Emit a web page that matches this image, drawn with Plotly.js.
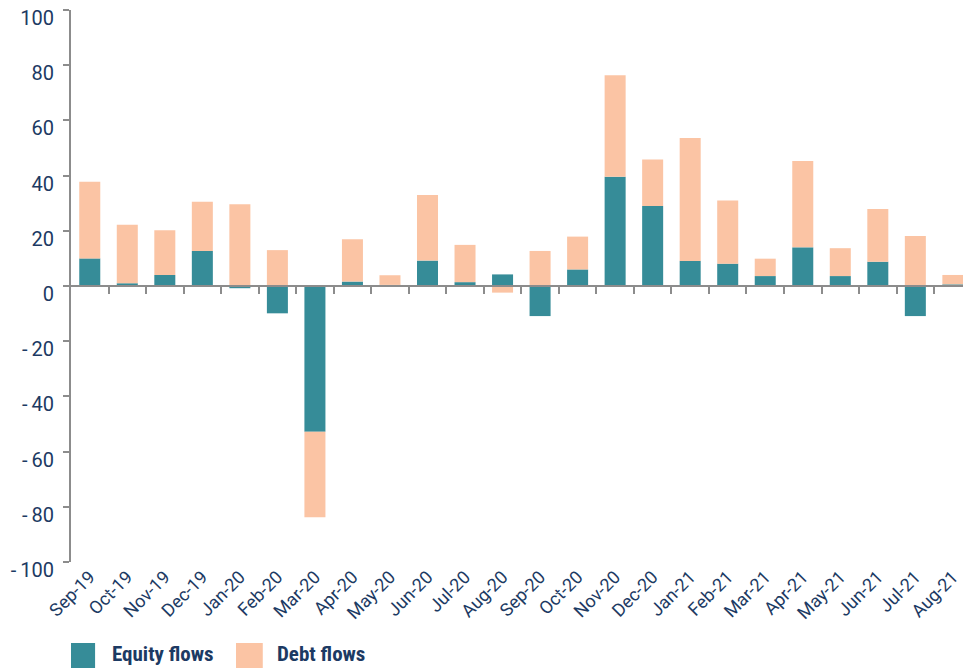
<!DOCTYPE html>
<html>
<head>
<meta charset="utf-8">
<script src="https://cdn.plot.ly/plotly-3.0.1.min.js"></script>
<style>html,body{margin:0;padding:0;background:#fff;}#chart{width:963px;height:668px;}</style>
</head>
<body>
<div id="chart"></div>
<script>
const categories = ["Sep-19","Oct-19","Nov-19","Dec-19","Jan-20","Feb-20","Mar-20","Apr-20","May-20","Jun-20","Jul-20","Aug-20","Sep-20","Oct-20","Nov-20","Dec-20","Jan-21","Feb-21","Mar-21","Apr-21","May-21","Jun-21","Jul-21","Aug-21"];
const equityFlows = [10.0, 1.0, 4.0, 12.7, -0.8, -9.9, -52.8, 1.6, 0.4, 9.2, 1.4, 4.2, -10.9, 6.0, 39.6, 29.0, 9.1, 8.1, 3.6, 14.0, 3.6, 8.8, -10.9, 0.6];
const debtFlows = [27.8, 21.2, 16.2, 17.8, 29.6, 13.0, -31.0, 15.3, 3.5, 23.8, 13.5, -2.4, 12.7, 11.9, 36.8, 16.8, 44.5, 22.9, 6.3, 31.3, 10.1, 19.1, 18.1, 3.4];
const yTicks = [-100,-80,-60,-40,-20,0,20,40,60,80,100];
const yTickText = yTicks.map(v => v < 0 ? '-\u2009' + Math.abs(v) : String(v));

const teal = '#368c98';
const peach = '#fbc4a4';
const navy = '#1c3a63';
const gray = '#8c8c8c';

const boundaries = categories.slice(0, -1).map((_, i) => i + 0.5);
const xRange = [-0.5, 23.27];

const traces = [
  {type:'bar', name:'Equity flows', x:categories, y:equityFlows, marker:{color:teal, line:{width:0}}, hoverinfo:'skip', showlegend:false},
  {type:'bar', name:'Debt flows', x:categories, y:debtFlows, marker:{color:peach, line:{width:0}}, hoverinfo:'skip', showlegend:false},
  {type:'scatter', x:[0], y:[0], xaxis:'x2', mode:'markers', marker:{opacity:0}, hoverinfo:'skip', showlegend:false}
];

const legendFont = {size:21, color:navy, family:'"Liberation Sans Narrow", "Roboto Condensed", Roboto, sans-serif'};

const layout = {
  width:963, height:668,
  margin:{l:71, r:0, t:10, b:106},
  paper_bgcolor:'#fff', plot_bgcolor:'#fff',
  barmode:'relative', bargap:0.44,
  font:{family:'Roboto, sans-serif', color:navy},
  showlegend:false,
  xaxis:{type:'category', range:xRange, showline:false, ticks:'', showgrid:false, zeroline:false,
         tickangle:-45, tickfont:{size:18, color:navy}, fixedrange:true},
  xaxis2:{overlaying:'x', anchor:'free', position:0.5, range:xRange, side:'bottom',
          showline:true, linecolor:gray, linewidth:2, ticks:'outside', ticklen:7, tickwidth:2, tickcolor:gray,
          tickvals:boundaries, showticklabels:false, showgrid:false, zeroline:false},
  yaxis:{range:[-100,100], tickvals:yTicks, ticktext:yTickText, showline:true, linecolor:gray, linewidth:2, ticks:'outside', ticklen:6,
         tickwidth:2, tickcolor:gray, showgrid:false, zeroline:false, tickfont:{size:20, color:navy},
         ticklabelstandoff:5, ticklabelshift:8},
  shapes:[
    {type:'rect', xref:'paper', yref:'paper', x0:0, x1:0.027, y0:-0.1467, y1:-0.195, fillcolor:teal, line:{width:0}},
    {type:'rect', xref:'paper', yref:'paper', x0:0.185, x1:0.215, y0:-0.1467, y1:-0.195, fillcolor:peach, line:{width:0}}
  ],
  annotations:[
    {xref:'paper', yref:'paper', x:0.0437, y:-0.167, xanchor:'left', yanchor:'middle', showarrow:false,
     text:'<b>Equity flows</b>', font:legendFont},
    {xref:'paper', yref:'paper', x:0.2287, y:-0.167, xanchor:'left', yanchor:'middle', showarrow:false,
     text:'<b>Debt flows</b>', font:legendFont}
  ]
};

Plotly.newPlot('chart', traces, layout, {displayModeBar:false, staticPlot:true});
</script>
</body>
</html>
